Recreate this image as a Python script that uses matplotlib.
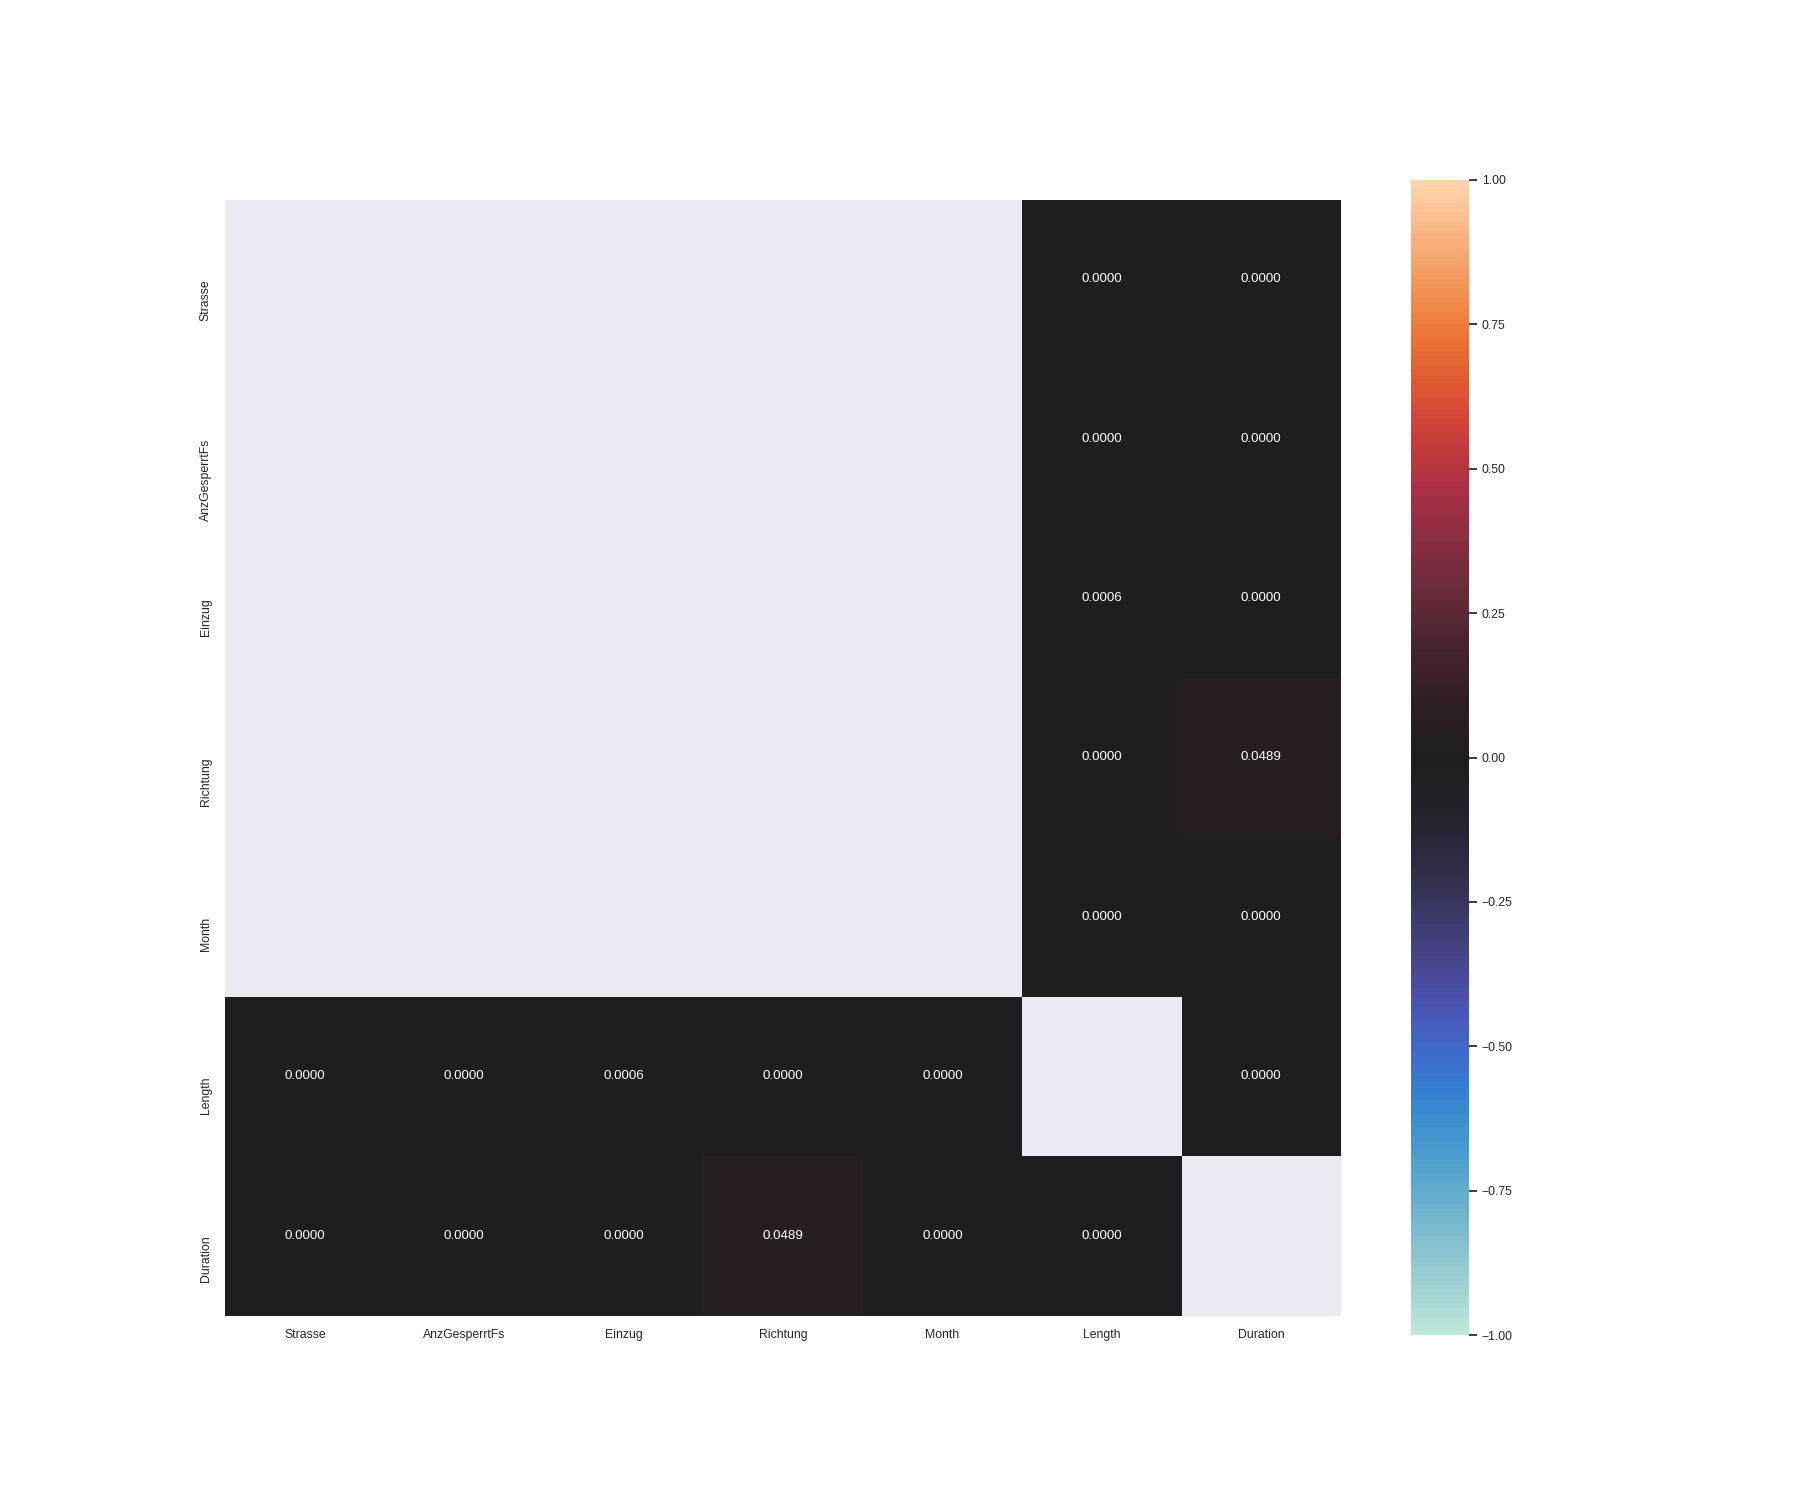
import numpy as np
import pandas as pd
import matplotlib
matplotlib.use("Agg")
import matplotlib.pyplot as plt
import seaborn as sns

labels = ["Strasse", "AnzGesperrtFs", "Einzug", "Richtung", "Month", "Length", "Duration"]
length_row = [0.0000, 0.0000, 0.0006, 0.0000, 0.0000, np.nan, 0.0000]
duration_row = [0.0000, 0.0000, 0.0000, 0.0489, 0.0000, 0.0000, np.nan]

n = len(labels)
mat = np.full((n, n), np.nan)
mat[5, :] = length_row
mat[6, :] = duration_row
mat[:, 5] = length_row
mat[:, 6] = duration_row
df = pd.DataFrame(mat, index=labels, columns=labels)

sns.set_theme(font_scale=0.8)
plt.rcParams['font.family'] = ['Liberation Sans', 'DejaVu Sans']
plt.rcParams['axes.grid'] = False

fig, ax = plt.subplots(figsize=(18, 15), dpi=100)
sns.heatmap(df, annot=True, fmt=".4f", cmap="icefire", vmin=-1, vmax=1, center=0,
            square=True, ax=ax)
ax.grid(False)
for t in ax.get_yticklabels():
    t.set_va("top")
fig.savefig("out.png", dpi=100)
